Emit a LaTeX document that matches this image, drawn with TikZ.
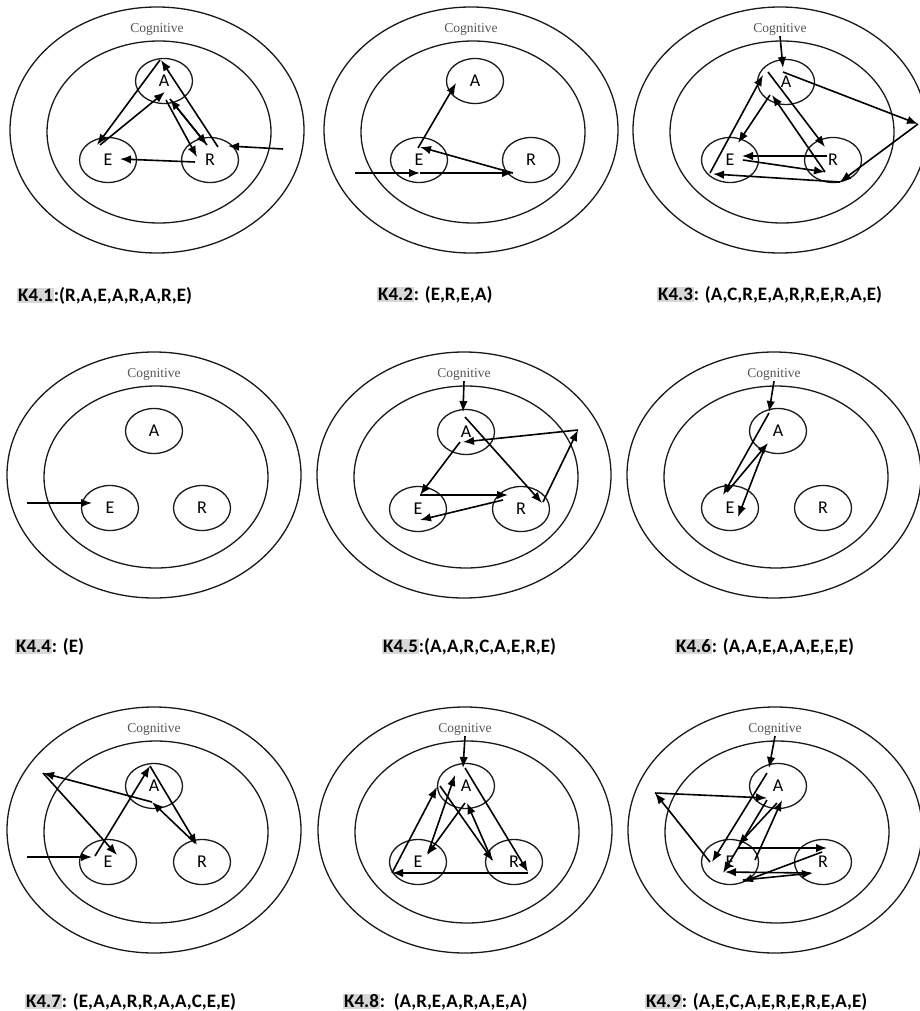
\documentclass[tikz,border=0pt]{standalone}
\usepackage{fontspec}
\setmainfont{Carlito}
\newfontfamily\cogfont{Liberation Serif}
\usepackage{xcolor}
\usepackage{tikz}
\usetikzlibrary{
  shapes.geometric,
  arrows.meta
}
\definecolor{RingBlack}{RGB}{25, 25, 25}
\definecolor{CogGray}{RGB}{85, 85, 85}
\definecolor{TagGray}{RGB}{215, 215, 215}
\setlength{\fboxsep}{1pt}
\newcommand{\ktag}[1]{\colorbox{TagGray}{#1}}
% two rings and the Cognitive label of one panel: prefix, x, y of the outer centre
\newcommand{\cogrings}[3]{%
  \draw[ring] (#2,#3) ellipse [x radius=147pt, y radius=123pt];
  \draw[ring] (#2+2,#3+2) ellipse [x radius=112pt, y radius=91pt];
  \node[cogtext] (#1cog) at (#2,#3-101) {Cognitive};
}
\tikzset{
  ring/.style={draw=RingBlack, line width=1.3pt},
  stage/.style={ellipse, draw=RingBlack, line width=1.3pt, minimum width=57pt,
    minimum height=45pt, inner sep=0pt, font=\fontsize{18}{20}\selectfont},
  cogtext/.style={font=\cogfont\fontsize{13.5}{15}\selectfont, text=CogGray, inner sep=1pt},
  flow/.style={-{Latex[length=11pt,width=8.5pt]}, line width=1.6pt, draw=black},
  caption/.style={anchor=west, inner sep=0pt, font=\fontsize{19}{22}\selectfont\bfseries}
}

\begin{document}
\begin{tikzpicture}[x=1pt, y=-1pt]
  \useasboundingbox (0,0) rectangle (920,1011);

  % K4.1
  \cogrings{p1}{157}{130}
  \node[stage] (p1A) at (164,81) {A};
  \node[stage] (p1E) at (108,160) {E};
  \node[stage] (p1R) at (210,160) {R};
  \coordinate (p1in) at (283,149);
  \draw[flow] (p1in) -- ([shift={(18,-14)}]p1R.center);
  \draw[flow] ([shift={(8,-13)}]p1R.center) -- ([shift={(-3,-21)}]p1A.center);
  \draw[flow] ([shift={(-4,-21)}]p1A.center) -- ([shift={(-11,-15)}]p1E.center);
  \draw[flow] ([shift={(-8,-15)}]p1E.center) -- ([shift={(1,11)}]p1A.center);
  \draw[flow] ([shift={(2,19)}]p1A.center) -- ([shift={(-13,-3)}]p1R.center);
  \draw[flow] ([shift={(-3,-15)}]p1R.center) -- ([shift={(6,18)}]p1A.center);
  \draw[flow] ([shift={(6,18)}]p1A.center) -- ([shift={(-3,-15)}]p1R.center);
  \draw[flow] ([shift={(-15,2)}]p1R.center) -- ([shift={(12,-1)}]p1E.center);
  \node[caption] (p1cap) at (17,296) {\ktag{K4.1}:(R,A,E,A,R,A,R,E)};

  % K4.2
  \cogrings{p2}{471}{130}
  \node[stage] (p2A) at (475,81) {A};
  \node[stage] (p2E) at (419,160) {E};
  \node[stage] (p2R) at (531,160) {R};
  \coordinate (p2in) at (355,173);
  \draw[flow] (p2in) -- ([shift={(1,13)}]p2E.center);
  \draw[flow] ([shift={(1,13)}]p2E.center) -- ([shift={(-18,13)}]p2R.center);
  \draw[flow] ([shift={(-18,13)}]p2R.center) -- ([shift={(1,-13)}]p2E.center);
  \draw[flow] ([shift={(-1,-12)}]p2E.center) -- ([shift={(-19,2)}]p2A.center);
  \node[caption] (p2cap) at (377,295) {\ktag{K4.2}: (E,R,E,A)};

  % K4.3
  \cogrings{p3}{780}{130}
  \node[stage] (p3A) at (786,82) {A};
  \node[stage] (p3E) at (730,160) {E};
  \node[stage] (p3R) at (833,160) {R};
  \coordinate (p3c) at (918,124);
  \draw[flow] (p3cog.south) -- ([shift={(-3,-14)}]p3A.center);
  \draw[flow] ([shift={(-3,-10)}]p3A.center) -- (p3c);
  \draw[flow] (p3c) -- ([shift={(7,22)}]p3R.center);
  \draw[flow] ([shift={(7,22)}]p3R.center) -- ([shift={(-17,14)}]p3E.center);
  \draw[flow] ([shift={(-20,13)}]p3E.center) -- ([shift={(-23,-7)}]p3A.center);
  \draw[flow] ([shift={(-18,-10)}]p3A.center) -- ([shift={(-8,-13)}]p3R.center);
  \draw[flow] ([shift={(-6,-4)}]p3R.center) -- ([shift={(12,-4)}]p3E.center);
  \draw[flow] ([shift={(13,0)}]p3E.center) -- ([shift={(-8,12)}]p3R.center);
  \draw[flow] ([shift={(-8,12)}]p3R.center) -- ([shift={(-14,13)}]p3A.center);
  \draw[flow] ([shift={(-16,13)}]p3A.center) -- ([shift={(8,-17)}]p3E.center);
  \node[caption] (p3cap) at (657,295) {\ktag{K4.3}: (A,C,R,E,A,R,R,E,R,A,E)};

  % K4.4
  \cogrings{p4}{154}{475}
  \node[stage] (p4A) at (154,431) {A};
  \node[stage] (p4E) at (110,508) {E};
  \node[stage] (p4R) at (202,508) {R};
  \coordinate (p4in) at (27,503);
  \draw[flow] (p4in) -- ([shift={(-18,-5)}]p4E.center);
  \node[caption] (p4cap) at (15,647) {\ktag{K4.4}: (E)};

  % K4.5
  \cogrings{p5}{464}{475}
  \node[stage] (p5A) at (466,432) {A};
  \node[stage] (p5E) at (418,509) {E};
  \node[stage] (p5R) at (521,509) {R};
  \coordinate (p5c) at (578,430);
  \draw[flow] (p5cog.south) -- ([shift={(-3,-20)}]p5A.center);
  \draw[flow] ([shift={(-1,-15)}]p5A.center) -- ([shift={(21,-6)}]p5R.center);
  \draw[flow] ([shift={(22,-7)}]p5R.center) -- (p5c);
  \draw[flow] (p5c) -- ([shift={(-3,10)}]p5A.center);
  \draw[flow] ([shift={(-6,10)}]p5A.center) -- ([shift={(2,-14)}]p5E.center);
  \draw[flow] ([shift={(2,-14)}]p5E.center) -- ([shift={(-13,-14)}]p5R.center);
  \draw[flow] ([shift={(-18,-9)}]p5R.center) -- ([shift={(2,11)}]p5E.center);
  \node[caption] (p5cap) at (382,647) {\ktag{K4.5}:(A,A,R,C,A,E,R,E)};

  % K4.6
  \cogrings{p6}{774}{475}
  \node[stage] (p6A) at (778,431) {A};
  \node[stage] (p6E) at (730,508) {E};
  \node[stage] (p6R) at (823,508) {R};
  \draw[flow] (p6cog.south) -- ([shift={(-9,-19)}]p6A.center);
  \draw[flow] ([shift={(-9,-18)}]p6A.center) -- ([shift={(-7,-13)}]p6E.center);
  \draw[flow] ([shift={(-3,-16)}]p6E.center) -- ([shift={(-10,12)}]p6A.center);
  \draw[flow] ([shift={(-13,16)}]p6A.center) -- ([shift={(8,9)}]p6E.center);
  \node[caption] (p6cap) at (675,647) {\ktag{K4.6}: (A,A,E,A,A,E,E,E)};

  % K4.7
  \cogrings{p7}{154}{830}
  \node[stage] (p7A) at (154,786) {A};
  \node[stage] (p7E) at (108,862) {E};
  \node[stage] (p7R) at (202,862) {R};
  \coordinate (p7in) at (27,857);
  \coordinate (p7c) at (43,773);
  \draw[flow] (p7in) -- ([shift={(-16,-5)}]p7E.center);
  \draw[flow] ([shift={(-13,-6)}]p7E.center) -- ([shift={(-4,-20)}]p7A.center);
  \draw[flow] ([shift={(-4,-20)}]p7A.center) -- ([shift={(-5,-17)}]p7R.center);
  \draw[flow] ([shift={(-7,-19)}]p7R.center) -- ([shift={(-2,16)}]p7A.center);
  \draw[flow] ([shift={(-2,16)}]p7A.center) -- (p7c);
  \draw[flow] (p7c) -- ([shift={(9,-7)}]p7E.center);
  \node[caption] (p7cap) at (25,1002) {\ktag{K4.7}: (E,A,A,R,R,A,A,C,E,E)};

  % K4.8
  \cogrings{p8}{465}{830}
  \node[stage] (p8A) at (466,786) {A};
  \node[stage] (p8E) at (418,862) {E};
  \node[stage] (p8R) at (514,862) {R};
  \draw[flow] (p8cog.south) -- ([shift={(-3,-18)}]p8A.center);
  \draw[flow] ([shift={(-1,-18)}]p8A.center) -- ([shift={(14,10)}]p8R.center);
  \draw[flow] ([shift={(14,11)}]p8R.center) -- ([shift={(-26,11)}]p8E.center);
  \draw[flow] ([shift={(-26,11)}]p8E.center) -- ([shift={(-29,1)}]p8A.center);
  \draw[flow] ([shift={(-26,0)}]p8A.center) -- ([shift={(-21,-1)}]p8R.center);
  \draw[flow] ([shift={(-22,-2)}]p8R.center) -- ([shift={(1,17)}]p8A.center);
  \draw[flow] ([shift={(-1,17)}]p8A.center) -- ([shift={(9,-7)}]p8E.center);
  \draw[flow] ([shift={(10,-9)}]p8E.center) -- ([shift={(-11,-11)}]p8A.center);
  \node[caption] (p8cap) at (343,1002) {\ktag{K4.8}:\ \ (A,R,E,A,R,A,E,A)};

  % K4.9
  \cogrings{p9}{775}{830}
  \node[stage] (p9A) at (778,786) {A};
  \node[stage] (p9E) at (730,862) {E};
  \node[stage] (p9R) at (823,862) {R};
  \coordinate (p9c) at (655,793);
  \draw[flow] (p9cog.south) -- ([shift={(-9,-18)}]p9A.center);
  \draw[flow] ([shift={(-11,-13)}]p9A.center) -- ([shift={(-18,0)}]p9E.center);
  \draw[flow] ([shift={(-20,0)}]p9E.center) -- (p9c);
  \draw[flow] (p9c) -- ([shift={(-11,12)}]p9A.center);
  \draw[flow] ([shift={(-11,14)}]p9A.center) -- ([shift={(-7,11)}]p9E.center);
  \draw[flow] ([shift={(8,-14)}]p9E.center) -- ([shift={(4,-14)}]p9R.center);
  \draw[flow] ([shift={(-13,11)}]p9R.center) -- ([shift={(-5,10)}]p9E.center);
  \draw[flow] ([shift={(13,18)}]p9E.center) -- ([shift={(-10,11)}]p9R.center);
  \draw[flow] ([shift={(-1,-10)}]p9R.center) -- ([shift={(12,20)}]p9E.center);
  \draw[flow] ([shift={(25,-2)}]p9E.center) -- ([shift={(4,14)}]p9A.center);
  \draw[flow] ([shift={(-1,17)}]p9A.center) -- ([shift={(8,-17)}]p9E.center);
  \node[caption] (p9cap) at (645,1002) {\ktag{K4.9}: (A,E,C,A,E,R,E,R,E,A,E)};
\end{tikzpicture}
\end{document}
